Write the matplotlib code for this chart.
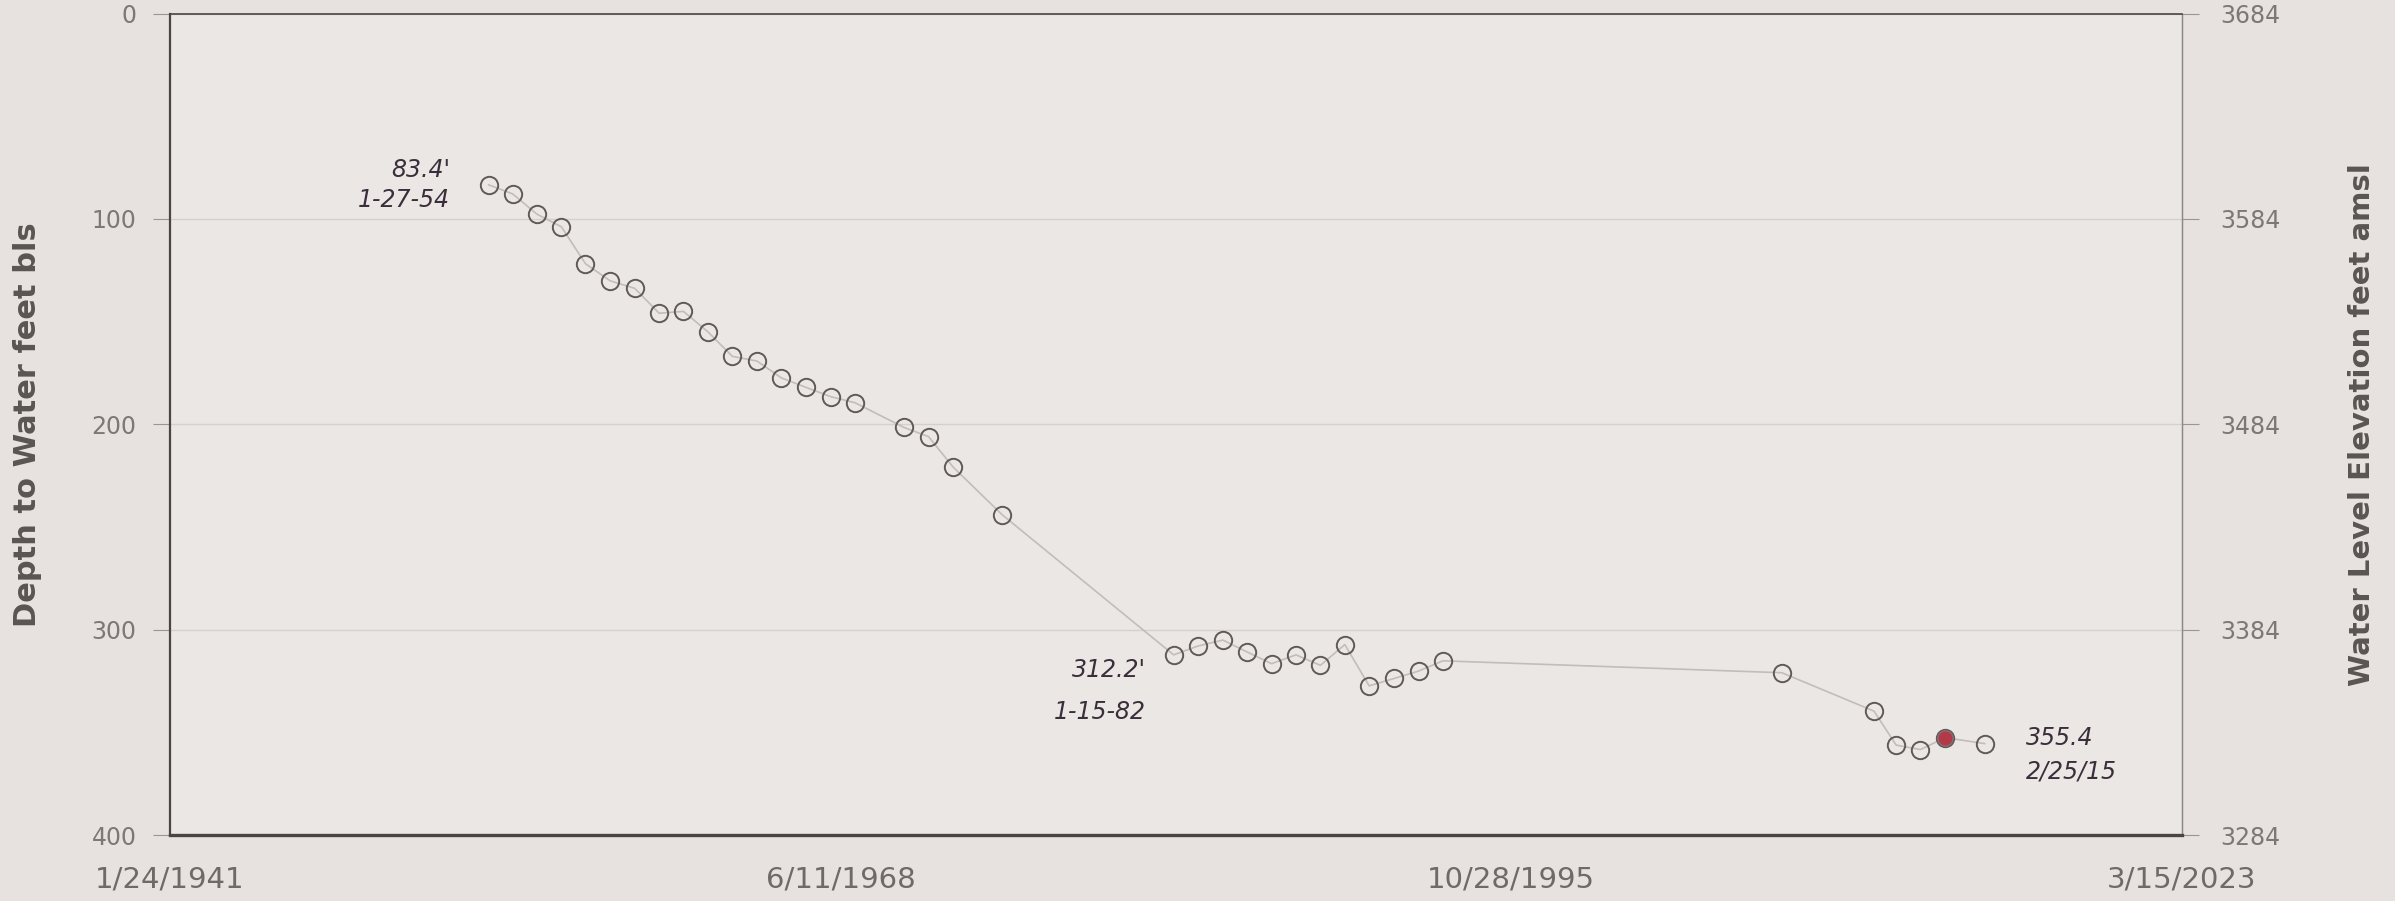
import matplotlib
matplotlib.use("Agg")
import matplotlib.pyplot as plt
import pandas as pd

dates = ["1954-01-27", "1955-01-20", "1956-01-18", "1957-01-15", "1958-01-10",
         "1959-01-12", "1960-01-15", "1961-01-12", "1962-01-10", "1963-01-08",
         "1964-01-10", "1965-01-12", "1966-01-10", "1967-01-12", "1968-01-15",
         "1969-01-14", "1971-01-12", "1972-01-14", "1973-01-16", "1975-01-15",
         "1982-01-15", "1983-01-12", "1984-01-18", "1985-01-15", "1986-01-14",
         "1987-01-13", "1988-01-12", "1989-01-10", "1990-01-09", "1991-01-15",
         "1992-01-14", "1993-01-12", "2006-11-15", "2010-08-20", "2011-07-15",
         "2012-07-10", "2013-07-15", "2015-02-25"]
depth = [83.4, 87.8, 97.7, 103.8, 121.8, 130.1, 133.8, 145.9, 145.0, 154.9,
         166.9, 169.2, 177.4, 182.0, 186.5, 189.5, 201.5, 206.0, 220.9, 244.0,
         312.2, 307.9, 305.0, 310.8, 316.5, 312.2, 317.3, 307.2, 327.3, 323.7,
         320.1, 315.1, 320.9, 339.6, 356.1, 358.3, 352.5, 355.4]
red_index = 36  # the filled red point

notes = ["83.4'\n1-27-54", "312.2'\n1-15-82", "355.4\n2/25/15"]
note_dates = ["1954-01-27", "1982-01-15", "2015-02-25"]

x_ticks = ["1941-01-24", "1968-06-11", "1995-10-28", "2023-03-15"]
x_tick_labels = ["1/24/1941", "6/11/1968", "10/28/1995", "3/15/2023"]
y_ticks = [0, 100, 200, 300, 400]
top_elev = 3684

bg = "#e7e2e0"
fig = plt.figure(figsize=(23.95, 9.01), dpi=100, facecolor=bg)
ax = fig.add_axes([0.071, 0.073, 0.84, 0.912])
ax.set_facecolor("#ebe7e5")

t = pd.to_datetime(dates)
ax.plot(t, depth, color="#c2bdbb", lw=1.2, zorder=2)
ax.plot(t, depth, "o", ms=12.5, mfc="none", mec="#5f5a59", mew=1.4, zorder=3)
ax.plot(t[red_index], depth[red_index], "o", ms=11, mfc="#b23a48",
        mec="#8a6a6e", mew=1.0, zorder=4)

ax.set_xlim(pd.Timestamp(x_ticks[0]), pd.Timestamp(x_ticks[-1]))
ax.set_ylim(400, 0)
ax.set_xticks(pd.to_datetime(x_ticks))
ax.set_xticklabels(x_tick_labels)
ax.set_yticks(y_ticks)
ax.grid(axis="y", color="#d5d0ce", lw=1.0)
ax.set_axisbelow(True)

for s in ["left", "top", "bottom"]:
    ax.spines[s].set_color("#4a4442")
ax.spines["bottom"].set_linewidth(2.4)
ax.spines["left"].set_linewidth(1.6)
ax.spines["top"].set_linewidth(1.2)
ax.spines["right"].set_color("#8d8886")
ax.spines["right"].set_linewidth(1.0)

ax.tick_params(axis="y", colors="#9a9593", labelcolor="#7d7876", labelsize=17,
               length=12, pad=12)
ax.tick_params(axis="x", colors="#9a9593", labelcolor="#6f6a68", labelsize=21,
               length=0, pad=22)
ax.set_ylabel("Depth to Water feet bls", fontsize=22, fontweight="bold",
              color="#5a5553", labelpad=36)

sec = ax.secondary_yaxis("right", functions=(lambda d: top_elev - d,
                                             lambda e: top_elev - e))
sec.set_yticks([top_elev - v for v in y_ticks])
sec.tick_params(colors="#9a9593", labelcolor="#7d7876", labelsize=17,
                length=12, pad=16)
sec.spines["right"].set_color("#8d8886")
sec.set_ylabel("Water Level Elevation feet amsl", fontsize=21,
               fontweight="bold", color="#5a5553", rotation=90, labelpad=48)

# offsets of the handwritten notes, in points
note_pos = [(-28, 0, "right", 1.3), (-20, -26, "right", 1.9),
            (30, -8, "left", 1.5)]
for txt, d, (dx, dy, ha, ls) in zip(notes, note_dates, note_pos):
    i = dates.index(d)
    ax.annotate(txt, (t[i], depth[i]), xytext=(dx, dy),
                textcoords="offset points", ha=ha, va="center", fontsize=17,
                style="italic", color="#3a2e3a", linespacing=ls)

fig.savefig("out.png", dpi=100, facecolor=bg)
